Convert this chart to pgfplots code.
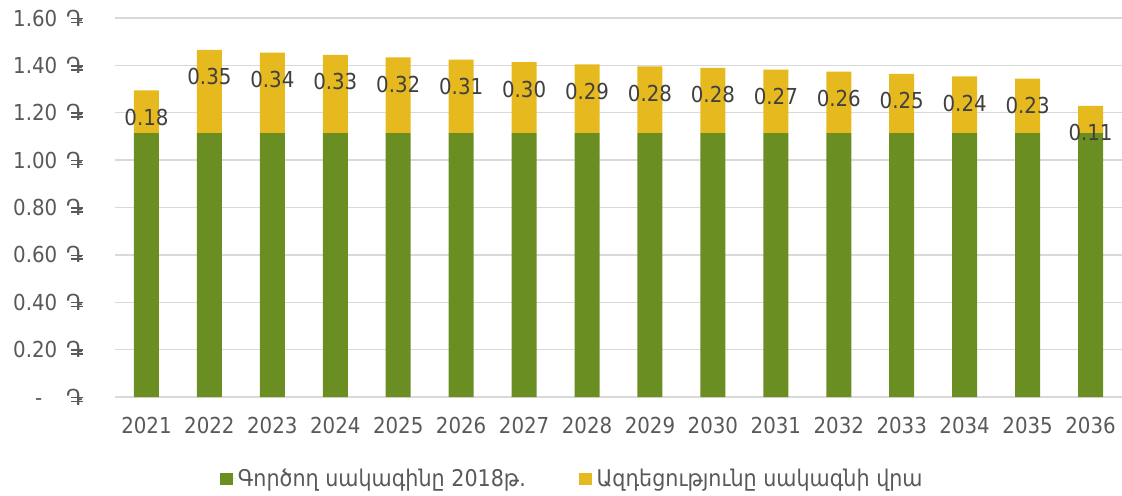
\documentclass[border=0pt]{standalone}
\usepackage{fontspec}
\setmainfont{DejaVu Sans Condensed}
\newfontfamily\dramfont{DejaVu Sans}
% Armenian dram sign (no installed family has U+058F): letter Da with two bars
\newcommand{\dr}{{\dramfont\setbox0\hbox{Դ}\rlap{Դ}\rlap{\hspace{0.30\wd0}\rule[0.13em]{0.72\wd0}{0.07em}}\rlap{\hspace{0.30\wd0}\rule[0.31em]{0.72\wd0}{0.07em}}\hbox to \wd0{}}}
\usepackage{pgfplots}
\usepackage{pgfplotstable}
\pgfplotsset{compat=1.18}
\definecolor{grn}{HTML}{6B8E23}
\definecolor{ylw}{HTML}{E6B91E}
\definecolor{gridc}{HTML}{D9D9D9}
\definecolor{tickc}{HTML}{595959}
\definecolor{lblc}{HTML}{404040}
\pgfplotstableread{
x base add tot lab
0  1.114 0.180 1.294 0.18
1  1.114 0.351 1.465 0.35
2  1.114 0.340 1.454 0.34
3  1.114 0.330 1.444 0.33
4  1.114 0.320 1.434 0.32
5  1.114 0.310 1.424 0.31
6  1.114 0.300 1.414 0.30
7  1.114 0.290 1.404 0.29
8  1.114 0.282 1.396 0.28
9  1.114 0.275 1.389 0.28
10 1.114 0.268 1.382 0.27
11 1.114 0.260 1.374 0.26
12 1.114 0.250 1.364 0.25
13 1.114 0.240 1.354 0.24
14 1.114 0.230 1.344 0.23
15 1.114 0.115 1.229 0.11
}\datatable
\begin{document}
\begin{tikzpicture}
\begin{axis}[name=ax, at={(0,0)}, anchor=south west,
  scale only axis, width=1007pt, height=379pt,
  ybar stacked, bar width=25pt,
  xmin=-0.5, xmax=15.5, ymin=0, ymax=1.6,
  xtick={0,...,15},
  xticklabels={2021,2022,2023,2024,2025,2026,2027,2028,2029,2030,2031,2032,2033,2034,2035,2036},
  ytick={0,0.2,0.4,0.6,0.8,1.0,1.2,1.4,1.6},
  yticklabels={{-\hspace{15pt}\hspace{9pt}\dr},{0.20\hspace{9pt}\dr},{0.40\hspace{9pt}\dr},{0.60\hspace{9pt}\dr},{0.80\hspace{9pt}\dr},{1.00\hspace{9pt}\dr},{1.20\hspace{9pt}\dr},{1.40\hspace{9pt}\dr},{1.60\hspace{9pt}\dr}},
  ymajorgrids, grid style={draw=gridc, line width=1.3pt},
  major tick length=0pt,
  axis line style={draw=none},
  tick label style={font=\fontsize{22}{26}\selectfont, text=tickc},
  yticklabel style={inner sep=0pt, anchor=east, xshift=-32pt},
  xticklabel style={inner sep=0pt, anchor=north, yshift=-20pt},
  legend style={draw=none, fill=none, inner sep=0pt, at={(0.1043,-0.216)}, anchor=west,
    font=\fontsize{23}{27}\selectfont, text=tickc,
    /tikz/every even column/.append style={column sep=51pt}},
  legend columns=2,
  legend image code/.code={\path (0pt,0pt) -- (15.6pt,0pt);\fill[#1] (0pt,-6.3pt) rectangle (12.6pt,6.3pt);},
]
\addplot+[draw=none, fill=grn] table[x=x, y=base] {\datatable};
\addlegendentry{Գործող սակագինը 2018թ.}
\addplot+[draw=none, fill=ylw] table[x=x, y=add] {\datatable};
\addlegendentry{Ազդեցությունը սակագնի վրա}
\end{axis}
\begin{axis}[at={(0,0)}, anchor=south west,
  scale only axis, width=1007pt, height=379pt,
  xmin=-0.5, xmax=15.5, ymin=0, ymax=1.6,
  hide axis,
  every node near coord/.append style={font=\fontsize{22}{26}\selectfont, text=lblc, anchor=center, yshift=-27pt},
]
\addplot[draw=none, mark=none, nodes near coords, point meta=explicit symbolic] table[x=x, y=tot, meta=lab] {\datatable};
\end{axis}
\pgfresetboundingbox
\path[use as bounding box] ([shift={(-115pt,-98pt)}]ax.south west) rectangle ([shift={(0pt,18pt)}]ax.north east);
\end{tikzpicture}
\end{document}
